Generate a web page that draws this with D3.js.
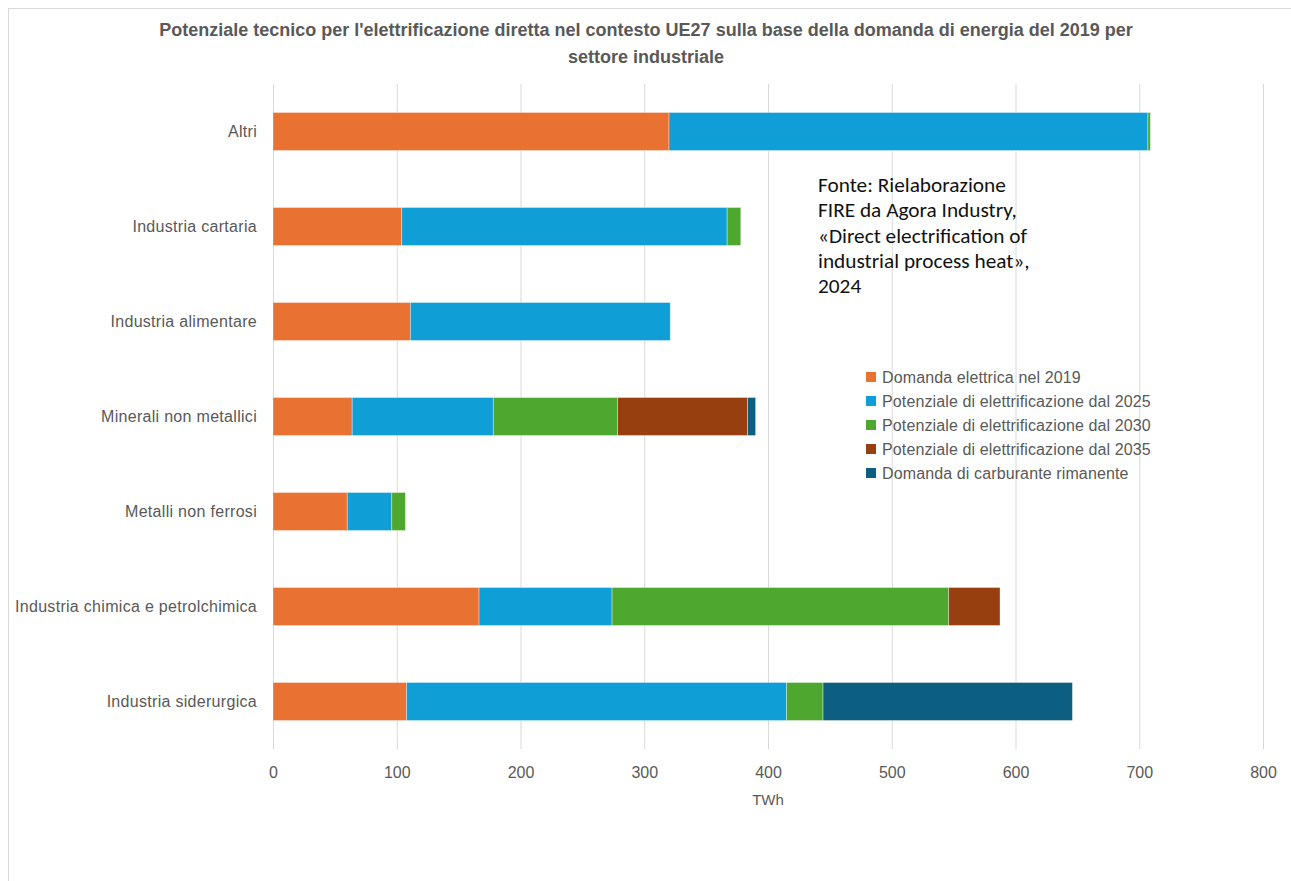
<!DOCTYPE html>
<html>
<head>
<meta charset="utf-8">
<script src="https://cdn.jsdelivr.net/npm/d3@7"></script>
<style>
  body { margin: 0; background: #fff; }
  text { font-family: "Liberation Sans", Arial, sans-serif; }
</style>
</head>
<body>
<div id="chart"></div>
<script>
// Sectors (top to bottom)
var sectors = ["Altri", "Industria cartaria", "Industria alimentare", "Minerali non metallici",
               "Metalli non ferrosi", "Industria chimica e petrolchimica", "Industria siderurgica"];

// Series names
var seriesNames = ["Domanda elettrica nel 2019", "Potenziale di elettrificazione dal 2025",
                   "Potenziale di elettrificazione dal 2030", "Potenziale di elettrificazione dal 2035",
                   "Domanda di carburante rimanente"];
var seriesColors = ["#E97132", "#0F9ED5", "#4EA72E", "#983F10", "#0C5F80"];

// Values in TWh, same order as sectors
var domanda2019  = [320, 104, 111, 64, 60, 166.5, 108];
var pot2025      = [387, 263, 210, 114, 36, 107.5, 307];
var pot2030      = [2, 11, 0, 100.5, 11, 272, 29.5];
var pot2035      = [0, 0, 0, 105, 0, 41.5, 0];
var carburante   = [0, 0, 0, 6.5, 0, 0, 201.5];

var xTicks = [0, 100, 200, 300, 400, 500, 600, 700, 800];

var titleLines = ["Potenziale tecnico per l'elettrificazione diretta nel contesto UE27 sulla base della domanda di energia del 2019 per",
                  "settore industriale"];
var noteLines = ["Fonte: Rielaborazione", "FIRE da Agora Industry,", "«Direct electrification of",
                 "industrial process heat»,", "2024"];

var svgWidth = 1291, svgHeight = 881;
var margin = { top: 84, left: 273, right: 28, bottom: 132 };
var width = 1263 - margin.left;
var height = 749 - margin.top;

var svg = d3.select("#chart").append("svg")
  .attr("width", svgWidth)
  .attr("height", svgHeight);

// chart border
svg.append("rect")
  .attr("x", 8.5).attr("y", 8.5)
  .attr("width", 1300).attr("height", 900)
  .attr("fill", "none").attr("stroke", "#d9d9d9");

var chart = svg.append("g")
  .attr("transform", "translate(" + margin.left + "," + margin.top + ")");

var x = d3.scaleLinear().domain([0, 800]).range([0, width]);
var y = d3.scaleBand().domain(sectors).range([0, height]).paddingInner(0.6).paddingOuter(0.3);

// gridlines
chart.append("g")
  .selectAll("line")
  .data(xTicks)
  .enter().append("line")
    .attr("x1", function(d) { return x(d) + 0.5; })
    .attr("x2", function(d) { return x(d) + 0.5; })
    .attr("y1", 0)
    .attr("y2", height)
    .attr("stroke", "#d9d9d9")
    .attr("stroke-width", 1);

// stacked data
var table = sectors.map(function(s, i) {
  return { sector: s, s0: domanda2019[i], s1: pot2025[i], s2: pot2030[i], s3: pot2035[i], s4: carburante[i] };
});
var stack = d3.stack().keys(["s0", "s1", "s2", "s3", "s4"]);
var layers = stack(table);

chart.append("g")
  .selectAll("g")
  .data(layers)
  .enter().append("g")
    .attr("fill", function(d, i) { return seriesColors[i]; })
  .selectAll("rect")
  .data(function(d) { return d.filter(function(p) { return p[1] - p[0] > 0; }); })
  .enter().append("rect")
    .attr("x", function(d) { return x(d[0]); })
    .attr("width", function(d) { return x(d[1]) - x(d[0]); })
    .attr("y", function(d) { return y(d.data.sector); })
    .attr("height", y.bandwidth())
    .attr("stroke", "#ffffff")
    .attr("stroke-opacity", 0.45)
    .attr("stroke-width", 0.8);

// y axis labels
var leftAxis = d3.axisLeft(y).tickSize(0).tickPadding(16);
chart.append("g")
  .call(leftAxis)
  .call(function(g) { g.select(".domain").remove(); })
  .selectAll("text")
    .attr("fill", "#595959")
    .style("font-size", "16px")
    .style("letter-spacing", "0.3px")
    .style("font-family", "Liberation Sans, Arial, sans-serif");

// x axis labels
var bottomAxis = d3.axisBottom(x).tickValues(xTicks).tickSize(0).tickPadding(18);
chart.append("g")
  .attr("transform", "translate(0," + height + ")")
  .call(bottomAxis)
  .call(function(g) { g.select(".domain").remove(); })
  .selectAll("text")
    .attr("fill", "#595959")
    .style("font-size", "16px")
    .style("font-family", "Liberation Sans, Arial, sans-serif");

chart.append("text")
  .attr("x", width / 2)
  .attr("y", height + 56)
  .attr("text-anchor", "middle")
  .attr("fill", "#595959")
  .style("font-size", "15px")
  .text("TWh");

// title
svg.append("g")
  .selectAll("text")
  .data(titleLines)
  .enter().append("text")
    .attr("x", 646)
    .attr("y", function(d, i) { return 36 + i * 27; })
    .attr("text-anchor", "middle")
    .attr("fill", "#595959")
    .style("font-size", "18px")
    .style("font-weight", "bold")
    .text(function(d) { return d; });

// legend
var legend = svg.append("g").attr("transform", "translate(866,370)");
var item = legend.selectAll("g")
  .data(seriesNames)
  .enter().append("g")
    .attr("transform", function(d, i) { return "translate(0," + (i * 24) + ")"; });
item.append("rect")
  .attr("width", 10).attr("height", 10)
  .attr("y", 2)
  .attr("fill", function(d, i) { return seriesColors[i]; });
item.append("text")
  .attr("x", 16)
  .attr("y", 12.5)
  .attr("fill", "#595959")
  .style("font-size", "16px")
  .style("letter-spacing", "0.12px")
  .text(function(d) { return d; });

// source note
svg.append("g")
  .selectAll("text")
  .data(noteLines)
  .enter().append("text")
    .attr("x", 818)
    .attr("y", function(d, i) { return 192 + i * 25.3; })
    .attr("fill", "#111")
    .style("font-family", "Carlito, Calibri, 'Liberation Sans', sans-serif")
    .style("font-size", "21.3px")
    .text(function(d) { return d; });
</script>
</body>
</html>
